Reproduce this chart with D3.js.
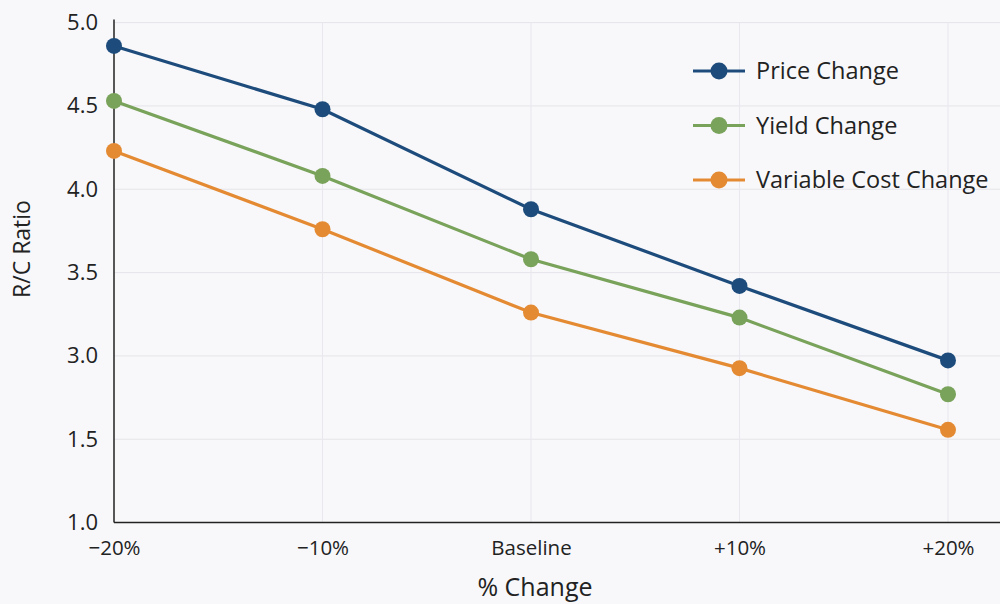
<!DOCTYPE html>
<html>
<head>
<meta charset="utf-8">
<script src="https://cdn.jsdelivr.net/npm/d3@7/dist/d3.min.js"></script>
<style>
  html, body { margin: 0; padding: 0; background: #f8f8fa; }
  svg { display: block; }
  text { font-family: "Open Sans", "Noto Sans", sans-serif; fill: #222; }
</style>
</head>
<body>
<svg id="chart" width="1000" height="604"></svg>
<script>
// Scenario categories along the x axis
const categories = ["\u221220%", "\u221210%", "Baseline", "+10%", "+20%"];

// R/C ratio for each scenario
const priceChange = [4.86, 4.48, 3.88, 3.42, 2.92];
const yieldChange = [4.53, 4.08, 3.58, 3.23, 2.31];
const variableCostChange = [4.23, 3.76, 3.26, 2.78, 1.67];

// Tick labels on the R/C ratio axis (evenly spaced on the axis)
const yTickValues = [1.0, 1.5, 3.0, 3.5, 4.0, 4.5, 5.0];

const seriesNames = ["Price Change", "Yield Change", "Variable Cost Change"];
const seriesColors = ["#1d4c7c", "#79a25a", "#e48a33"];

const series = [priceChange, yieldChange, variableCostChange].map((values, i) => ({
  name: seriesNames[i], color: seriesColors[i], values
}));

const svg = d3.select("#chart");
const plotLeft = 114, plotEdge = 1000, plotTop = 22.6, plotBottom = 522.6;
const lastPointX = 948;

const x = d3.scalePoint().domain(categories).range([plotLeft, lastPointX]);

// Each labelled tick gets an equal share of the axis height
const step = (plotBottom - plotTop) / (yTickValues.length - 1);
const y = d3.scaleLinear()
  .domain(yTickValues)
  .range(yTickValues.map((_, i) => plotBottom - i * step));

// Grid
const grid = svg.append("g");
grid.selectAll("line.h").data(yTickValues.slice(1)).join("line")
  .attr("x1", plotLeft).attr("x2", plotEdge)
  .attr("y1", d => y(d)).attr("y2", d => y(d))
  .attr("stroke", "#e4e4ea").attr("stroke-width", 1);
grid.selectAll("line.v").data(categories.slice(1)).join("line")
  .attr("x1", d => x(d)).attr("x2", d => x(d))
  .attr("y1", plotTop).attr("y2", plotBottom)
  .attr("stroke", "#e8e8ee").attr("stroke-width", 1);

// Axes
const yAxis = svg.append("g").attr("transform", `translate(${plotLeft},0)`)
  .call(d3.axisLeft(y).tickValues(yTickValues).tickFormat(d3.format(".1f")).tickSize(0).tickPadding(16));
yAxis.select(".domain").attr("stroke", "#222").attr("stroke-width", 1.5)
  .attr("d", `M0,${plotTop - 3}V${plotBottom}`);
yAxis.selectAll("text").attr("font-size", 22).attr("fill", "#222")
  .style("font-family", "'Open Sans', sans-serif");

const xAxis = svg.append("g").attr("transform", `translate(0,${plotBottom})`)
  .call(d3.axisBottom(x).tickSize(0).tickPadding(18));
xAxis.select(".domain").attr("stroke", "#222").attr("stroke-width", 1.5)
  .attr("d", `M${plotLeft},0H${plotEdge}`);
xAxis.selectAll("text").attr("font-size", 20.5).attr("fill", "#222")
  .style("font-family", "'Open Sans', sans-serif");

// Axis titles
svg.append("text").attr("x", 535).attr("y", 596).attr("text-anchor", "middle")
  .attr("font-size", 25).text("% Change");
svg.append("text").attr("transform", "translate(30,249) rotate(-90)")
  .attr("text-anchor", "middle").attr("font-size", 23).text("R/C Ratio");

// Lines and markers
const line = d3.line().x((d, i) => x(categories[i])).y(d => y(d));
const g = svg.append("g");
series.forEach(s => {
  g.append("path").datum(s.values).attr("d", line)
    .attr("fill", "none").attr("stroke", s.color).attr("stroke-width", 3.2);
  g.selectAll(null).data(s.values).join("circle")
    .attr("cx", (d, i) => x(categories[i])).attr("cy", d => y(d))
    .attr("r", 8).attr("fill", s.color);
});

// Legend
const legend = svg.append("g");
series.forEach((s, i) => {
  const ly = 71 + i * 54.5;
  legend.append("line").attr("x1", 693).attr("x2", 745).attr("y1", ly).attr("y2", ly)
    .attr("stroke", s.color).attr("stroke-width", 3.2);
  legend.append("circle").attr("cx", 719).attr("cy", ly).attr("r", 8.5).attr("fill", s.color);
  legend.append("text").attr("x", 756).attr("y", ly + 8).attr("font-size", 23.5).text(s.name);
});
</script>
</body>
</html>
